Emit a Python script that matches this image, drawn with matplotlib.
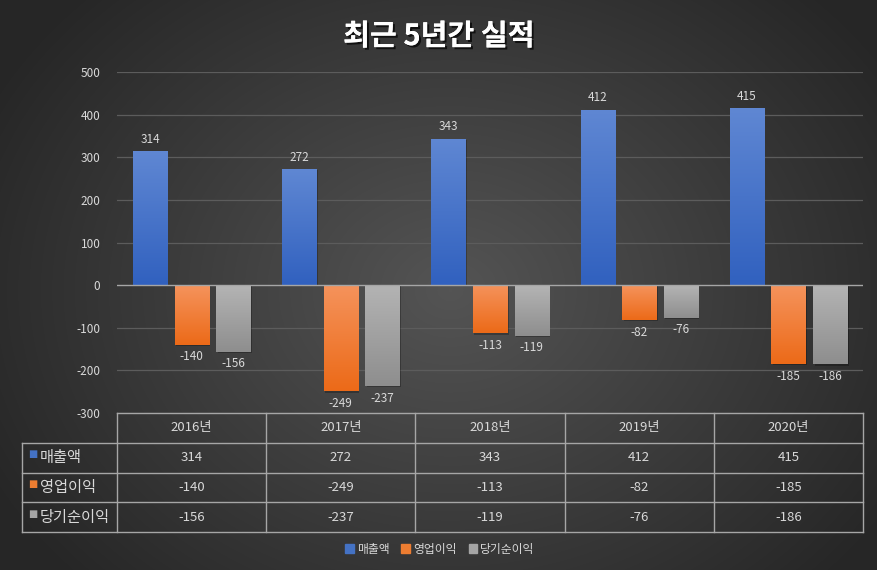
import matplotlib
matplotlib.use('Agg')
import matplotlib.pyplot as plt
import matplotlib.patheffects as pe
from matplotlib.patches import Rectangle
import numpy as np

plt.rcParams['font.family'] = ['Noto Sans CJK KR', 'DejaVu Sans']
plt.rcParams['axes.unicode_minus'] = False

years = ['2016년', '2017년', '2018년', '2019년', '2020년']
series_names = ['매출액', '영업이익', '당기순이익']
sales = [314, 272, 343, 412, 415]
op_profit = [-140, -249, -113, -82, -185]
net_profit = [-156, -237, -119, -76, -186]
y_ticks = [-300, -200, -100, 0, 100, 200, 300, 400, 500]

series = [sales, op_profit, net_profit]
top_cols = ['#5f87d3', '#f5935c', '#b4b4b4']
bot_cols = ['#3161bf', '#ec6a18', '#8e8e8e']
mid_cols = ['#4472c4', '#ed7d31', '#a5a5a5']
txt = '#d9d9d9'
line_c = '#a6a6a6'

W, H = 878, 570
fig = plt.figure(figsize=(W / 100, H / 100), dpi=100)

# background radial gradient
bg = fig.add_axes([0, 0, 1, 1])
yy, xx = np.mgrid[0:H, 0:W]
r = np.sqrt(((xx - 450) / 520.0) ** 2 + ((yy - 290) / 420.0) ** 2)
r = np.clip(r, 0, 1)
shade = 0.33 - 0.18 * r
bg.imshow(np.dstack([shade] * 3), extent=[0, W, H, 0], aspect='auto')
bg.set_xlim(0, W)
bg.set_ylim(H, 0)
bg.axis('off')


def px_rect(l, t, r_, b):
    return [l / W, 1 - b / H, (r_ - l) / W, (b - t) / H]


ax = fig.add_axes(px_rect(117, 72, 863, 413))
ax.set_facecolor('none')
ax.set_xlim(-0.5, 4.5)
ax.set_ylim(-300, 500)
ax.set_yticks(y_ticks)
ax.set_xticks([])
ax.tick_params(axis='y', length=0, pad=12, labelsize=8.5, labelcolor=txt)
for s in ax.spines.values():
    s.set_visible(False)
for t in y_ticks:
    if t != 0:
        ax.axhline(t, color='#5c5c5c', lw=0.9, zorder=0)
ax.axhline(0, color=line_c, lw=1.0, zorder=3)

x = np.arange(len(years))
offsets = [-0.279, 0, 0.279]
bw = 0.228
for k, vals in enumerate(series):
    grad = np.linspace(0, 1, 100)[:, None]
    c1 = np.array(matplotlib.colors.to_rgb(top_cols[k]))
    c2 = np.array(matplotlib.colors.to_rgb(bot_cols[k]))
    for i, v in enumerate(vals):
        xc = x[i] + offsets[k]
        y0, y1 = (0, v) if v > 0 else (v, 0)
        # shadow
        sh = Rectangle((xc - bw / 2 + 0.01, y0 - 3), bw, y1 - y0, color='black',
                       alpha=0.25, lw=0, zorder=1)
        ax.add_patch(sh)
        rect = Rectangle((xc - bw / 2, y0), bw, y1 - y0, facecolor=mid_cols[k],
                         lw=0, zorder=2)
        ax.add_patch(rect)
        img = c1 + (c2 - c1) * grad[:, :, None]
        im = ax.imshow(img, extent=[xc - bw / 2, xc + bw / 2, y0, y1],
                       aspect='auto', zorder=2, origin='upper')
        im.set_clip_path(rect)
        if v > 0:
            ax.annotate(str(v), (xc, v), xytext=(0, 4), textcoords='offset points',
                        ha='center', va='bottom', fontsize=8.5, color=txt)
        else:
            ax.annotate(str(v), (xc, v), xytext=(0, -4), textcoords='offset points',
                        ha='center', va='top', fontsize=8.5, color=txt)
ax.set_xlim(-0.5, 4.5)
ax.set_ylim(-300, 500)

# data table
tb = fig.add_axes(px_rect(117, 413, 863, 532))
tb.set_facecolor('none')
tb.set_xlim(-0.5, 4.5)
tb.set_ylim(0, 4)
tb.axis('off')
left = -0.5 - (117 - 22) / 149.2
lk = dict(color=line_c, lw=1.0, clip_on=False)
tb.plot([-0.5, 4.5], [4, 4], **lk)
for yl in [3, 2, 1, 0]:
    tb.plot([left, 4.5], [yl, yl], **lk)
for xl in np.arange(-0.5, 5.0, 1.0):
    tb.plot([xl, xl], [0, 4], **lk)
tb.plot([left, left], [0, 3], **lk)
for i, yr in enumerate(years):
    tb.text(i, 3.5, yr, ha='center', va='center', fontsize=9.5, color=txt)
for k, vals in enumerate(series):
    yc = 2.5 - k
    tb.text(left + 0.04, yc + 0.12, '■', ha='left', va='center', fontsize=7,
            color=mid_cols[k], family=['DejaVu Sans'])
    tb.text(left + 0.12, yc, series_names[k], ha='left', va='center',
            fontsize=11, color=txt)
    for i, v in enumerate(vals):
        tb.text(i, yc, str(v), ha='center', va='center', fontsize=9.5, color=txt)

# legend
handles = [Rectangle((0, 0), 1, 1, color=c) for c in mid_cols]
fig.legend(handles, series_names, loc='center', bbox_to_anchor=(440 / W, 1 - 549 / H),
           ncol=3, frameon=False, fontsize=8.5, labelcolor=txt, handlelength=0.7,
           handleheight=0.7, handletextpad=0.3, columnspacing=1.0)

fig.text(439 / W, 1 - 36 / H, '최근 5년간 실적', ha='center', va='center',
         fontsize=21, fontweight='bold', color='white',
         path_effects=[pe.withSimplePatchShadow(offset=(1.5, -1.5),
                                                shadow_rgbFace='black', alpha=0.7),
                       pe.Normal()])

fig.savefig('out.png', dpi=100)
